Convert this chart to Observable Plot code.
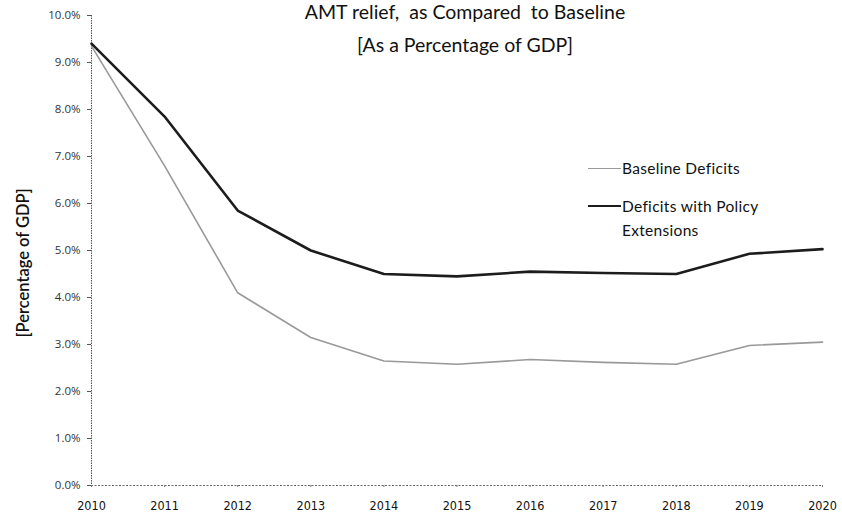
<!DOCTYPE html>
<html>
<head>
<meta charset="utf-8">
<script src="https://cdn.jsdelivr.net/npm/d3@7"></script>
<script src="https://cdn.jsdelivr.net/npm/@observablehq/plot@0.6"></script>
<style>
  html, body { margin: 0; padding: 0; background: #fff; }
  #wrap { position: relative; width: 842px; height: 525px; overflow: hidden; font-family: "Open Sans", "DejaVu Sans", sans-serif; }
  .title { position: absolute; left: 0; width: 842px; text-align: center; font-size: 19.5px; color: #111; font-family: Lato, "Open Sans", sans-serif; white-space: pre; line-height: 24px; }
  .leg { position: absolute; font-size: 15.5px; color: #111; line-height: 24px; font-family: Lato, "Open Sans", sans-serif; letter-spacing: 0.3px; }
  .sw { position: absolute; height: 0; }
</style>
</head>
<body>
<div id="wrap"></div>
<script>
const years = [2010, 2011, 2012, 2013, 2014, 2015, 2016, 2017, 2018, 2019, 2020];
const baseline = [9.35, 6.8, 4.1, 3.15, 2.65, 2.58, 2.68, 2.62, 2.58, 2.98, 3.05];
const policy = [9.4, 7.85, 5.85, 5.0, 4.5, 4.45, 4.55, 4.52, 4.5, 4.93, 5.03];
const yTicks = [0, 1, 2, 3, 4, 5, 6, 7, 8, 9, 10];
const seriesNames = ["Baseline Deficits", "Deficits with Policy Extensions"];
const titleLines = ["AMT relief,  as Compared  to Baseline", "[As a Percentage of GDP]"];
const yLabel = "[Percentage of GDP]";

const data = [];
years.forEach((y, i) => {
  data.push({year: y, value: baseline[i], series: seriesNames[0]});
  data.push({year: y, value: policy[i], series: seriesNames[1]});
});

const chart = Plot.plot({
  width: 842,
  height: 525,
  marginLeft: 91,
  marginRight: 20,
  marginTop: 15,
  marginBottom: 40,
  style: {fontFamily: "'Open Sans', sans-serif", background: "#fff"},
  x: {domain: [2010, 2020], label: null},
  y: {domain: [0, 10], label: null},
  marks: [
    Plot.ruleX([2010], {stroke: "#555", strokeWidth: 1, strokeDasharray: "1.5,1"}),
    Plot.ruleY([0], {stroke: "#666", strokeWidth: 1, strokeDasharray: "2,1.5"}),
    Plot.axisY({
      ticks: yTicks, tickSize: 4, tickPadding: 7,
      tickFormat: d => d.toFixed(1) + "%",
      fontSize: 11.5, color: "#333", stroke: "#555",
      label: null
    }),
    Plot.axisX({
      ticks: years, tickSize: 2, tickPadding: 14,
      tickFormat: d => String(d),
      fontSize: 12.5, color: "#111", stroke: "#777",
      fontFamily: "'Liberation Sans Narrow', 'DejaVu Sans Condensed', sans-serif",
      label: null
    }),
    Plot.line(data.filter(d => d.series === seriesNames[0]), {
      x: "year", y: "value", stroke: "#999999", strokeWidth: 1.6
    }),
    Plot.line(data.filter(d => d.series === seriesNames[1]), {
      x: "year", y: "value", stroke: "#1c1c1c", strokeWidth: 2.6
    })
  ]
});

const wrap = document.getElementById("wrap");
wrap.appendChild(chart);

const t1 = document.createElement("div");
t1.className = "title"; t1.style.top = "0px"; t1.style.left = "44px"; t1.textContent = titleLines[0];
wrap.appendChild(t1);
const t2 = document.createElement("div");
t2.className = "title"; t2.style.top = "33px"; t2.style.left = "44px"; t2.textContent = titleLines[1];
wrap.appendChild(t2);

const yl = document.createElement("div");
yl.textContent = yLabel;
yl.style.cssText = "position:absolute;left:23px;top:263px;transform:translate(-50%,-50%) rotate(-90deg);white-space:nowrap;font-size:16.5px;font-weight:600;color:#111;font-family:Lato,'Open Sans',sans-serif;";
wrap.appendChild(yl);

// legend
const sw1 = document.createElement("div");
sw1.className = "sw"; sw1.style.cssText += "left:588px;top:168px;width:33px;border-top:1.6px solid #999999;";
wrap.appendChild(sw1);
const l1 = document.createElement("div");
l1.className = "leg"; l1.style.left = "622px"; l1.style.top = "156px"; l1.textContent = seriesNames[0];
wrap.appendChild(l1);
const sw2 = document.createElement("div");
sw2.className = "sw"; sw2.style.cssText += "left:588px;top:205px;width:33px;border-top:2.6px solid #1c1c1c;";
wrap.appendChild(sw2);
const l2 = document.createElement("div");
l2.className = "leg"; l2.style.left = "622px"; l2.style.top = "194px"; l2.style.width = "210px";
l2.innerHTML = "Deficits with Policy<br>Extensions";
wrap.appendChild(l2);
</script>
</body>
</html>
